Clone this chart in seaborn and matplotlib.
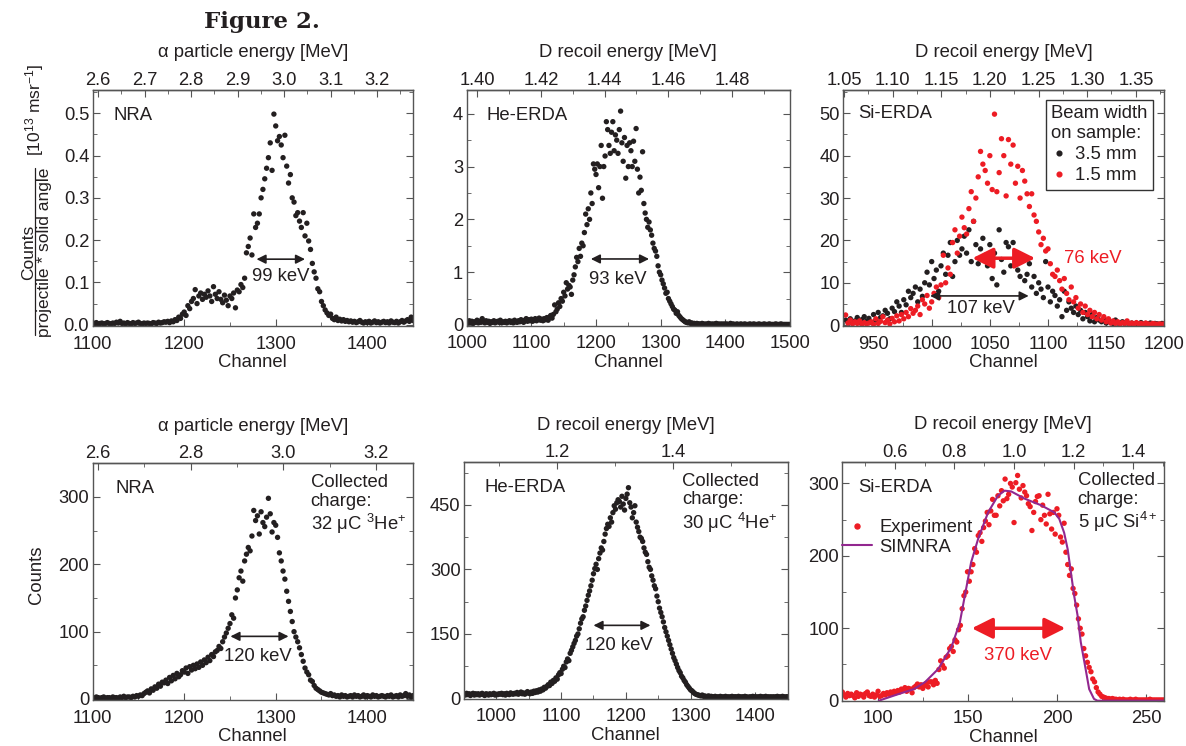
import numpy as np
import matplotlib
matplotlib.use('Agg')
import matplotlib.pyplot as plt
import seaborn as sns
from matplotlib.lines import Line2D
from matplotlib.ticker import MultipleLocator, FormatStrFormatter

sns.set_style('ticks')
plt.rcParams.update({
    'font.family': ['Liberation Sans', 'DejaVu Sans'],
    'font.stretch': 'normal',
    'mathtext.default': 'regular',
    'font.size': 13,
    'text.color': '#231f20',
    'axes.labelcolor': '#231f20',
    'xtick.color': '#231f20',
    'ytick.color': '#231f20',
    'axes.edgecolor': '#555555',
    'axes.linewidth': 1.0,
})

BLACK = '#231f20'
RED = '#ed1c24'
PURPLE = '#92278f'
FS = 13.3   # text size of labels and notes
TS = 13.2   # tick label size

# ---------------- data ----------------
# top row, NRA (normalised), channel 1100..1450 step 2
nra_top_ch = np.arange(1100, 1451, 2)
nra_top_val = [
    0.004, 0.003, 0.005, 0.002, 0.003, 0.004, 0.002, 0.003, 0.005, 0.003,
    0.002, 0.004, 0.003, 0.006, 0.004, 0.008, 0.003, 0.004, 0.002, 0.005,
    0.003, 0.002, 0.005, 0.003, 0.004, 0.006, 0.003, 0.002, 0.004, 0.003,
    0.004, 0.003, 0.002, 0.005, 0.004, 0.003, 0.006, 0.004, 0.005, 0.007,
    0.006, 0.008, 0.005, 0.009, 0.007, 0.012, 0.010, 0.018, 0.015, 0.025,
    0.030, 0.022, 0.045, 0.038, 0.055, 0.062, 0.083, 0.050, 0.068, 0.075,
    0.060, 0.072, 0.065, 0.080, 0.068, 0.055, 0.090, 0.072, 0.062, 0.078,
    0.060, 0.052, 0.070, 0.058, 0.045, 0.068, 0.062, 0.075, 0.040, 0.082,
    0.078, 0.095, 0.088, 0.110, 0.170, 0.185, 0.205, 0.165, 0.262, 0.230,
    0.240, 0.262, 0.300, 0.320, 0.345, 0.370, 0.395, 0.430, 0.365, 0.498,
    0.470, 0.435, 0.445, 0.425, 0.395, 0.448, 0.375, 0.335, 0.355, 0.300,
    0.290, 0.258, 0.265, 0.245, 0.230, 0.265, 0.210, 0.240, 0.198, 0.178,
    0.145, 0.125, 0.110, 0.085, 0.078, 0.055, 0.045, 0.035, 0.028, 0.022,
    0.025, 0.015, 0.012, 0.018, 0.010, 0.013, 0.009, 0.012, 0.008, 0.010,
    0.007, 0.009, 0.006, 0.008, 0.005, 0.007, 0.010, 0.006, 0.004, 0.007,
    0.005, 0.008, 0.004, 0.006, 0.009, 0.005, 0.007, 0.004, 0.006, 0.008,
    0.005, 0.007, 0.004, 0.009, 0.006, 0.005, 0.008, 0.004, 0.007, 0.010,
    0.006, 0.009, 0.012, 0.008, 0.018, 0.010,
]

# top row, He-ERDA (normalised), channel 1000..1500 step 2
he_top_ch = np.arange(1000, 1501, 2)
he_top_val = [
    0.06, 0.04, 0.08, 0.05, 0.07, 0.03, 0.06, 0.05, 0.09, 0.04,
    0.07, 0.05, 0.12, 0.06, 0.04, 0.08, 0.05, 0.07, 0.03, 0.06,
    0.05, 0.08, 0.04, 0.06, 0.07, 0.05, 0.09, 0.04, 0.06, 0.05,
    0.07, 0.04, 0.06, 0.08, 0.05, 0.07, 0.04, 0.09, 0.06, 0.05,
    0.08, 0.06, 0.10, 0.07, 0.05, 0.09, 0.12, 0.07, 0.10, 0.08,
    0.11, 0.07, 0.09, 0.12, 0.08, 0.10, 0.13, 0.09, 0.11, 0.08,
    0.12, 0.10, 0.14, 0.09, 0.15, 0.18, 0.13, 0.20, 0.38, 0.25,
    0.30, 0.42, 0.35, 0.50, 0.45, 0.62, 0.55, 0.80, 0.68, 0.75,
    0.72, 0.58, 0.85, 0.95, 1.10, 1.28, 1.20, 1.45, 1.30, 1.55,
    1.50, 1.75, 2.10, 1.90, 2.20, 2.00, 2.50, 2.30, 3.05, 2.95,
    2.85, 3.05, 2.60, 3.00, 3.40, 2.40, 3.00, 3.20, 3.85, 3.70,
    3.40, 3.25, 3.65, 3.85, 3.30, 3.60, 3.50, 3.25, 3.70, 4.05,
    3.45, 3.10, 3.55, 2.78, 3.40, 3.00, 3.45, 3.30, 3.00, 3.48,
    3.10, 3.72, 2.95, 2.50, 2.80, 2.55, 3.28, 2.30, 2.12, 2.00,
    1.85, 1.95, 1.80, 1.70, 1.55, 1.45, 1.40, 1.30, 1.12, 1.00,
    0.95, 0.85, 0.78, 0.70, 0.60, 0.62, 0.50, 0.45, 0.40, 0.35,
    0.30, 0.28, 0.22, 0.25, 0.18, 0.15, 0.12, 0.10, 0.08, 0.06,
    0.05, 0.04, 0.06, 0.03, 0.04, 0.02, 0.03, 0.02, 0.03, 0.02,
    0.02, 0.01, 0.03, 0.02, 0.01, 0.02, 0.01, 0.03, 0.02, 0.01,
    0.02, 0.01, 0.02, 0.03, 0.01, 0.02, 0.01, 0.02, 0.01, 0.02,
    0.01, 0.02, 0.01, 0.01, 0.03, 0.01, 0.02, 0.01, 0.01, 0.02,
    0.01, 0.01, 0.02, 0.01, 0.01, 0.02, 0.01, 0.01, 0.01, 0.02,
    0.01, 0.01, 0.02, 0.01, 0.01, 0.01, 0.02, 0.01, 0.01, 0.01,
    0.02, 0.01, 0.01, 0.01, 0.02, 0.01, 0.01, 0.01, 0.01, 0.02,
    0.01, 0.01, 0.01, 0.02, 0.01, 0.01, 0.01, 0.01, 0.01, 0.01,
    0.01,
]

# top row, Si-ERDA (normalised), two beam widths, channel 926..1200 step 2
si_top_ch = np.arange(926, 1201, 2)
si_top_wide = [
    1.2, 0.8, 1.5, 0.5, 1.0, 1.8, 0.6, 1.3, 2.0, 0.9,
    1.6, 0.7, 2.5, 1.2, 3.0, 1.8, 2.2, 3.5, 2.8, 1.5,
    4.0, 3.2, 5.5, 4.5, 3.0, 6.0, 4.8, 8.0, 6.5, 7.5,
    9.0, 5.5, 8.5, 6.8, 10.0, 12.5, 9.5, 15.0, 11.0, 13.0,
    8.0, 14.0, 17.0, 12.0, 16.5, 19.5, 11.5, 15.0, 20.0, 16.5,
    18.0, 21.0, 17.0, 22.5, 15.0, 24.5, 19.0, 14.5, 18.0, 20.5,
    16.5, 14.0, 19.0, 11.0, 17.0, 9.5, 22.5, 15.5, 12.5, 19.5,
    18.5, 14.0, 19.5, 15.0, 13.0, 11.5, 16.0, 10.5, 12.0, 14.5,
    9.0, 11.5, 7.5, 10.0, 8.5, 6.5, 15.0, 9.0, 5.5, 8.0,
    7.0, 4.5, 6.0, 2.0, 8.0, 3.5, 5.5, 4.0, 3.0, 4.5,
    2.5, 3.5, 1.5, 3.0, 2.0, 1.0, 2.5, 0.8, 1.8, 1.2,
    0.8, 1.5, 0.5, 1.0, 0.6, 0.4, 1.2, 0.5, 0.3, 0.8,
    0.4, 0.6, 0.3, 0.5, 0.2, 0.4, 0.3, 0.6, 0.2, 0.4,
    0.3, 0.5, 0.2, 0.4, 0.3, 0.2, 0.4, 0.3,
]
si_top_narrow = [
    2.4, 0.5, 1.2, 0.3, 0.8, 0.4, 1.0, 0.2, 0.6, 0.3,
    0.5, 0.8, 0.2, 1.5, 0.4, 0.9, 2.0, 0.6, 1.2, 0.3,
    1.6, 0.8, 2.2, 1.0, 2.5, 1.5, 3.0, 2.0, 3.9, 2.8,
    3.5, 4.5, 2.5, 6.0, 5.0, 7.0, 4.0, 5.5, 7.5, 9.0,
    6.5, 9.5, 16.5, 10.0, 13.5, 12.0, 19.5, 22.5, 17.0, 21.0,
    25.5, 23.0, 21.5, 27.5, 31.5, 24.5, 30.0, 35.0, 41.0, 38.0,
    36.5, 33.5, 40.0, 32.0, 49.8, 31.5, 36.0, 44.0, 40.0, 30.5,
    43.8, 38.0, 42.5, 33.5, 37.5, 30.0, 36.5, 34.0, 31.0, 28.0,
    31.0, 26.0, 24.5, 22.0, 19.0, 20.5, 17.5, 18.0, 14.5, 12.0,
    11.5, 13.0, 10.5, 8.5, 11.0, 7.5, 6.0, 9.0, 5.5, 6.5,
    4.0, 5.0, 3.0, 4.5, 2.5, 3.5, 2.0, 3.0, 1.5, 2.5,
    1.2, 2.0, 0.8, 1.5, 0.5, 1.0, 0.4, 0.8, 0.3, 0.6,
    0.4, 1.0, 0.3, 0.5, 0.2, 0.6, 0.3, 0.4, 0.2, 0.5,
    0.3, 0.2, 0.4, 0.3, 0.2, 0.3, 0.2, 0.3,
]

# bottom row, NRA counts, channel 1100..1450 step 2
nra_bot_ch = np.arange(1100, 1451, 2)
nra_bot_val = [
    2, 1, 3, 2, 1, 2, 3, 1, 2, 2,
    1, 3, 2, 2, 1, 3, 2, 4, 2, 3,
    3, 2, 4, 3, 5, 4, 6, 5, 8, 10,
    12, 9, 15, 13, 18, 16, 22, 19, 25, 24,
    28, 23, 32, 27, 35, 30, 38, 33, 36, 42,
    40, 46, 38, 48, 43, 50, 45, 52, 47, 55,
    50, 58, 54, 62, 57, 66, 63, 70, 72, 78,
    75, 85, 92, 98, 105, 112, 125, 120, 150, 162,
    180, 190, 175, 205, 215, 225, 220, 242, 280, 265,
    272, 245, 278, 262, 256, 270, 298, 275, 248, 262,
    258, 240, 217, 205, 190, 178, 160, 145, 130, 115,
    100, 92, 85, 76, 66, 56, 46, 40, 36, 28,
    26, 20, 16, 14, 12, 10, 9, 8, 7, 6,
    8, 5, 6, 4, 5, 3, 6, 4, 5, 3,
    4, 5, 3, 6, 4, 5, 3, 4, 6, 3,
    5, 4, 3, 6, 4, 5, 3, 4, 5, 4,
    3, 5, 4, 6, 3, 4, 5, 3, 6, 4,
    5, 8, 4, 6, 3, 5,
]

# bottom row, He-ERDA counts, channel 950..1450 step 2
he_bot_ch = np.arange(950, 1451, 2)
he_bot_val = [
    10, 8, 12, 9, 11, 7, 10, 12, 8, 11,
    9, 11, 8, 10, 12, 9, 7, 11, 10, 8,
    11, 9, 10, 12, 8, 10, 9, 11, 10, 12,
    9, 11, 8, 12, 10, 9, 13, 11, 10, 12,
    11, 14, 10, 12, 15, 11, 13, 10, 12, 16,
    13, 11, 15, 12, 17, 14, 18, 15, 20, 17,
    22, 20, 26, 24, 28, 32, 30, 38, 35, 42,
    40, 48, 45, 55, 60, 58, 68, 75, 72, 85,
    92, 88, 105, 112, 120, 128, 135, 145, 150, 162,
    175, 185, 190, 205, 215, 228, 240, 250, 262, 275,
    290, 302, 312, 300, 325, 338, 350, 345, 365, 382,
    395, 405, 400, 420, 410, 432, 448, 440, 455, 462,
    458, 445, 470, 452, 438, 465, 475, 490, 455, 445,
    420, 432, 448, 410, 398, 388, 375, 372, 365, 350,
    340, 335, 318, 305, 300, 285, 275, 262, 255, 238,
    225, 210, 200, 190, 178, 165, 155, 145, 135, 125,
    115, 105, 95, 88, 80, 72, 65, 60, 52, 48,
    42, 38, 32, 28, 24, 20, 18, 15, 12, 10,
    9, 8, 7, 6, 8, 5, 6, 4, 5, 6,
    4, 5, 3, 4, 5, 3, 4, 3, 5, 4,
    3, 4, 5, 3, 4, 3, 4, 5, 3, 4,
    4, 3, 5, 4, 3, 4, 3, 5, 4, 3,
    3, 4, 3, 5, 4, 3, 4, 3, 4, 5,
    4, 3, 4, 5, 3, 4, 3, 4, 3, 4,
    3, 4, 5, 3, 4, 3, 5, 4, 3, 4,
    4,
]

# bottom row, Si-ERDA counts, channel 80..260 step 1
si_bot_ch = np.arange(80, 261, 1)
si_bot_val = [
    12, 8, 5, 10, 7, 9, 7, 4, 11, 6,
    9, 8, 5, 10, 12, 7, 6, 9, 5, 8,
    13, 6, 7, 10, 8, 11, 9, 12, 10, 13,
    11, 14, 12, 16, 15, 18, 13, 17, 16, 11,
    18, 20, 23, 19, 22, 17, 21, 24, 19, 26,
    26, 22, 28, 24, 43, 55, 49, 45, 60, 62,
    72, 75, 68, 84, 81, 98, 104, 127, 145, 150,
    178, 165, 178, 188, 210, 205, 228, 232, 220, 239,
    248, 260, 243, 262, 278, 256, 256, 283, 269, 290,
    276, 306, 279, 285, 300, 295, 246, 301, 311, 292,
    280, 297, 288, 283, 272, 268, 235, 260, 275, 282,
    283, 250, 270, 256, 244, 285, 258, 237, 260, 230,
    265, 256, 226, 219, 245, 205, 188, 173, 182, 155,
    148, 132, 113, 100, 92, 72, 62, 53, 46, 40,
    30, 26, 18, 12, 9, 6, 5, 4, 3, 3,
    2, 3, 2, 2, 1, 2, 1, 2, 1, 1,
    1, 2, 1, 1, 2, 1, 1, 1, 1, 1,
    1, 1, 2, 1, 1, 1, 1, 1, 1, 1,
    1,
]
simnra_ch = [100.4, 110, 120, 126.3, 133.7, 141, 145.7, 148.5, 152, 156,
             161.5, 167, 170.7, 174.4, 181.9, 191, 198.5, 201.3, 204, 206,
             207.8, 209.6, 211.5, 213.3, 216, 218, 220.7, 222.6, 260]
simnra_val = [0, 8, 16, 25.8, 44, 74, 108, 145, 191, 224,
              260, 283, 290, 289, 279, 270, 260, 251, 232, 209,
              177, 145, 118, 81, 44, 16, 2.5, 0, 0]

# ---------------- figure ----------------
W, H = 1186, 746
fig = plt.figure(figsize=(W / 100, H / 100), dpi=100)


def px_rect(left, top, right, bottom):
    return [left / W, 1 - bottom / H, (right - left) / W, (bottom - top) / H]


def panel(rect, xlim, ylim, xmaj, ymaj, yfmt, top):
    ax = fig.add_axes(px_rect(*rect))
    ax.set_xlim(*xlim)
    ax.set_ylim(*ylim)
    ax.xaxis.set_major_locator(MultipleLocator(xmaj))
    ax.xaxis.set_minor_locator(MultipleLocator(xmaj / 2))
    ax.yaxis.set_major_locator(MultipleLocator(ymaj))
    ax.yaxis.set_minor_locator(MultipleLocator(ymaj / 2))
    ax.yaxis.set_major_formatter(FormatStrFormatter(yfmt))
    ax.tick_params(which='both', direction='in', right=True, top=False,
                   labelsize=TS, color='#555555')
    ax.tick_params(which='major', length=5)
    ax.tick_params(which='minor', length=3)
    ax.tick_params(axis='x', which='major', pad=7)
    ax.tick_params(axis='y', which='major', pad=2.5)
    ax.set_xlabel('Channel', fontsize=FS, labelpad=1)
    ch0, e0, slope, ticks, minor, fmt, label = top
    sec = ax.secondary_xaxis(
        'top',
        functions=(lambda c: e0 + (c - ch0) / slope,
                   lambda e: ch0 + (e - e0) * slope))
    sec.set_xticks(ticks)
    sec.xaxis.set_minor_locator(MultipleLocator(minor))
    sec.xaxis.set_major_formatter(FormatStrFormatter(fmt))
    sec.tick_params(which='both', direction='in', labelsize=TS, color='#555555')
    sec.tick_params(which='major', length=5, pad=0.8)
    sec.tick_params(which='minor', length=3)
    sec.set_xlabel(label, fontsize=FS, labelpad=10.5)
    for s in ax.spines.values():
        s.set_visible(True)
    return ax


def dots(ax, x, y, color, s=15):
    sns.scatterplot(x=x, y=y, ax=ax, color=color, s=s, linewidth=0,
                    edgecolor='none', legend=False)


def darrow(ax, x0, x1, y, color=BLACK, lw=1.2, scale=9, head='0.6', width='0.3'):
    ax.annotate('', xy=(x1, y), xytext=(x0, y),
                arrowprops=dict(arrowstyle=f'<|-|>,head_length={head},head_width={width}',
                                color=color, lw=lw, mutation_scale=scale,
                                shrinkA=0, shrinkB=0))


def charge_note(ax, x, txt):
    ax.text(x, 0.955, txt, transform=ax.transAxes, va='top', fontsize=FS,
            linespacing=1.12)


# ---- top row ----
ax1 = panel((92.7, 90, 413, 326), (1100, 1450), (-0.003, 0.555), 100, 0.1, '%.1f',
            (1106, 2.6, 508, [2.6, 2.7, 2.8, 2.9, 3.0, 3.1, 3.2], 0.05, '%.1f',
             'α particle energy [MeV]'))
dots(ax1, nra_top_ch, nra_top_val, BLACK)
ax1.text(0.065, 0.89, 'NRA', transform=ax1.transAxes, va='center', fontsize=FS)
darrow(ax1, 1279, 1332, 0.155)
ax1.text(1305, 0.114, '99 keV', ha='center', va='center', fontsize=FS)

ax2 = panel((466.7, 90, 790, 325.5), (1000, 1500), (-0.01, 4.45), 100, 1, '%d',
            (1016.3, 1.40, 4925, [1.40, 1.42, 1.44, 1.46, 1.48], 0.01, '%.2f',
             'D recoil energy [MeV]'))
dots(ax2, he_top_ch, he_top_val, BLACK)
ax2.text(0.062, 0.89, 'He-ERDA', transform=ax2.transAxes, va='center', fontsize=FS)
darrow(ax2, 1192, 1282, 1.25)
ax2.text(1233, 0.87, '93 keV', ha='center', va='center', fontsize=FS)

ax3 = panel((843.3, 90, 1164.3, 326), (924, 1200), (-0.2, 55.5), 50, 10, '%d',
            (924.5, 1.05, 836.7, [1.05, 1.10, 1.15, 1.20, 1.25, 1.30, 1.35], 0.025,
             '%.2f', 'D recoil energy [MeV]'))
dots(ax3, si_top_ch, si_top_wide, BLACK)
dots(ax3, si_top_ch, si_top_narrow, RED)
ax3.text(0.046, 0.90, 'Si-ERDA', transform=ax3.transAxes, va='center', fontsize=FS)
darrow(ax3, 1035, 1089, 15.8, color=RED, lw=2.5, scale=14, head='0.9', width='0.45')
ax3.text(1114, 15.8, '76 keV', color=RED, va='center', fontsize=FS)
darrow(ax3, 998.6, 1083.4, 6.9)
ax3.text(1042, 3.9, '107 keV', ha='center', va='center', fontsize=FS)
h3 = [Line2D([], [], ls='', marker='o', ms=3.4, color=BLACK, label='3.5 mm'),
      Line2D([], [], ls='', marker='o', ms=3.4, color=RED, label='1.5 mm')]
leg3 = ax3.legend(handles=h3, title='Beam width\non sample:', loc='upper right',
                  bbox_to_anchor=(0.965, 0.958), frameon=True, fancybox=False,
                  edgecolor='#333333', framealpha=1, fontsize=FS, title_fontsize=FS,
                  handlelength=0.8, handletextpad=0.5, labelspacing=0.22,
                  borderpad=0.3, borderaxespad=0)
leg3.get_frame().set_linewidth(1.0)
leg3._legend_box.align = 'left'

# ---- bottom row ----
ax4 = panel((92.7, 463.3, 413, 700), (1100, 1450), (-1.5, 350), 100, 100, '%d',
            (1106, 2.6, 506, [2.6, 2.8, 3.0, 3.2], 0.1, '%.1f',
             'α particle energy [MeV]'))
dots(ax4, nra_bot_ch, nra_bot_val, BLACK)
ax4.text(0.07, 0.895, 'NRA', transform=ax4.transAxes, va='center', fontsize=FS)
charge_note(ax4, 0.68, 'Collected\ncharge:\n32 μC $^{3}$He$^{+}$')
darrow(ax4, 1250.5, 1314, 93)
ax4.text(1281, 63, '120 keV', ha='center', va='center', fontsize=FS)
ax4.set_ylabel('Counts', fontsize=FS)
ax4.yaxis.set_label_coords(-0.149, 0.528)

ax5 = panel((464, 462.3, 787.7, 698.5), (950, 1450), (0, 549), 100, 150, '%d',
            (1093.5, 1.2, 896, [1.2, 1.4, 1.6], 0.1, '%.1f',
             'D recoil energy [MeV]'))
dots(ax5, he_bot_ch, he_bot_val, BLACK)
ax5.text(0.062, 0.895, 'He-ERDA', transform=ax5.transAxes, va='center', fontsize=FS)
charge_note(ax5, 0.675, 'Collected\ncharge:\n30 μC $^{4}$He$^{+}$')
darrow(ax5, 1150, 1238, 170)
ax5.text(1189, 124, '120 keV', ha='center', va='center', fontsize=FS)

ax6 = panel((842.3, 461.7, 1164.3, 700.7), (80, 260), (0, 330), 50, 100, '%d',
            (109.3, 0.6, 166.6, [0.6, 0.8, 1.0, 1.2, 1.4], 0.1, '%.1f',
             'D recoil energy [MeV]'))
dots(ax6, si_bot_ch, si_bot_val, RED, s=15)
sns.lineplot(x=simnra_ch, y=simnra_val, ax=ax6, color=PURPLE, lw=1.5, sort=False)
ax6.text(0.05, 0.893, 'Si-ERDA', transform=ax6.transAxes, va='center', fontsize=FS)
charge_note(ax6, 0.731, 'Collected\ncharge:\n5 μC Si$^{4+}$')
darrow(ax6, 152.4, 204.7, 100, color=RED, lw=2.5, scale=14, head='0.9', width='0.45')
ax6.text(178, 62, '370 keV', color=RED, ha='center', va='center', fontsize=FS)
h6 = [Line2D([], [], ls='', marker='o', ms=3.6, color=RED, label='Experiment'),
      Line2D([], [], color=PURPLE, lw=1.5, label='SIMNRA')]
ax6.legend(handles=h6, loc='upper left', bbox_to_anchor=(0.0, 0.76), frameon=False,
           fontsize=FS, handlelength=1.6, handletextpad=0.4, labelspacing=0.15,
           borderpad=0, borderaxespad=0)

# ---- y label of the top row (fraction) ----
fig.text(28.3 / W, 1 - 252 / H, 'Counts', rotation=90, ha='center', va='center', fontsize=12.5)
fig.add_artist(Line2D([35 / W, 35 / W], [1 - 168 / H, 1 - 335 / H], color=BLACK, lw=0.9))
fig.text(45 / W, 1 - 252 / H, 'projectile * solid angle', rotation=90,
         ha='center', va='center', fontsize=12.5)
fig.text(35 / W, 1 - 110 / H, '[10$^{13}$ msr$^{-1}$]', rotation=90,
         ha='center', va='center', fontsize=12.5)

fig.text(262 / W, 1 - 22 / H, 'Figure 2.', ha='center', va='center', fontsize=16.5,
         fontweight='bold', family='DejaVu Serif')

fig.savefig('out.png', dpi=100)
